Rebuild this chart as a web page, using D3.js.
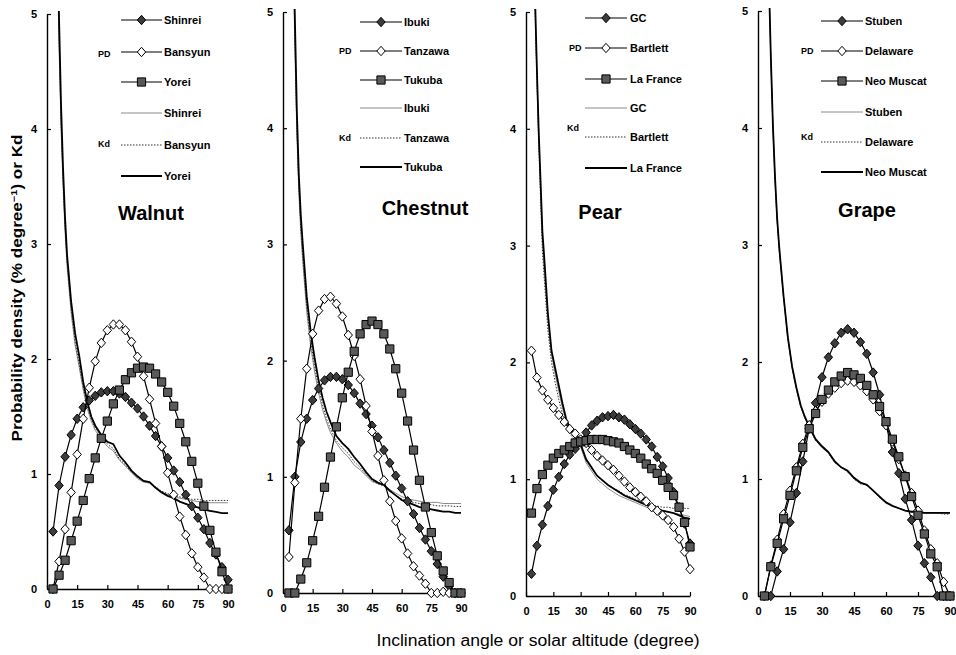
<!DOCTYPE html>
<html>
<head>
<meta charset="utf-8">
<script src="https://cdn.jsdelivr.net/npm/d3@7"></script>
<style>
  body { margin: 0; background: #fff; }
  svg { display: block; font-family: "Liberation Sans", Arial, sans-serif; }
</style>
</head>
<body>
<svg id="chart" width="956" height="655"></svg>
<script>
// PD angle classes (3 degree steps)
var angles = [3,6,9,12,15,18,21,24,27,30,33,36,39,42,45,48,51,54,57,60,63,66,69,72,75,78,81,84,87,90];
// angles at which Kd was read
var kdAngles = [4,5,6,7,8,9,10,12,14,16,18,20,22,24,27,30,33,36,39,42,45,48,51,54,57,60,63,66,69,72,75,78,81,84,87,90];

var xTicks = [0,15,30,45,60,75,90];
var yTicks = [0,1,2,3,4,5];
var cropNames = ['Walnut','Chestnut','Pear','Grape'];
var cultivars = [
  ['Shinrei','Bansyun','Yorei'],
  ['Ibuki','Tanzawa','Tukuba'],
  ['GC','Bartlett','La France'],
  ['Stuben','Delaware','Neo Muscat']
];

// --- Walnut
var walnutPD1 = [0.50,0.90,1.15,1.34,1.48,1.58,1.64,1.68,1.71,1.72,1.72,1.70,1.67,1.62,1.57,1.50,1.42,1.33,1.24,1.14,1.03,0.93,0.82,0.72,0.62,0.52,0.40,0.30,0.19,0.08];
var walnutPD2 = [0,0.24,0.52,0.84,1.17,1.48,1.75,1.98,2.14,2.25,2.30,2.30,2.25,2.15,2.02,1.85,1.65,1.44,1.24,1.01,0.82,0.63,0.47,0.31,0.19,0.10,0,0,0,0];
var walnutPD3 = [0,0.12,0.25,0.42,0.59,0.77,0.96,1.14,1.31,1.46,1.61,1.73,1.82,1.88,1.92,1.93,1.92,1.87,1.80,1.71,1.59,1.44,1.28,1.11,0.92,0.72,0.51,0.32,0.15,0];
var walnutKd1 = [7.0,5.6,4.7,4.0,3.5,3.1,2.8,2.4,2.12,1.93,1.73,1.57,1.46,1.38,1.30,1.24,1.20,1.12,1.07,1.01,0.96,0.93,0.92,0.88,0.84,0.82,0.80,0.79,0.78,0.77,0.76,0.76,0.75,0.75,0.75,0.75];
var walnutKd2 = [7.1,5.7,4.8,4.05,3.55,3.15,2.85,2.45,2.15,1.96,1.76,1.60,1.48,1.40,1.32,1.26,1.22,1.13,1.08,1.02,0.97,0.94,0.93,0.89,0.85,0.83,0.81,0.80,0.79,0.78,0.78,0.77,0.77,0.77,0.77,0.77];
var walnutKd3 = [7.3,5.9,4.95,4.2,3.65,3.22,2.9,2.5,2.22,2.03,1.80,1.63,1.50,1.42,1.34,1.28,1.26,1.16,1.10,1.03,0.98,0.94,0.93,0.88,0.84,0.81,0.79,0.76,0.74,0.72,0.71,0.69,0.68,0.67,0.66,0.66];

// --- Chestnut
var chestnutPD1 = [0.54,1.00,1.30,1.50,1.66,1.76,1.83,1.86,1.86,1.84,1.79,1.72,1.63,1.54,1.44,1.34,1.23,1.12,1.01,0.90,0.79,0.68,0.56,0.46,0.36,0.25,0.14,0.06,0,0];
var chestnutPD2 = [0.31,0.95,1.50,1.93,2.23,2.43,2.53,2.55,2.49,2.38,2.22,2.04,1.84,1.61,1.39,1.18,0.97,0.79,0.62,0.47,0.34,0.23,0.15,0.08,0,0,0.01,0,0,0];
var chestnutPD3 = [0,0,0.12,0.26,0.45,0.66,0.91,1.17,1.43,1.68,1.90,2.08,2.23,2.31,2.34,2.31,2.23,2.10,1.93,1.72,1.48,1.23,0.97,0.74,0.52,0.32,0.19,0.09,0,0];
var chestnutKd1 = [6.9,5.6,4.7,3.95,3.45,3.1,2.85,2.42,2.12,1.90,1.72,1.58,1.47,1.38,1.29,1.22,1.17,1.10,1.06,1.01,0.96,0.94,0.93,0.89,0.86,0.83,0.81,0.80,0.79,0.78,0.78,0.78,0.77,0.77,0.77,0.77];
var chestnutKd2 = [7.0,5.7,4.8,4.0,3.5,3.15,2.9,2.47,2.17,1.95,1.77,1.62,1.50,1.41,1.31,1.25,1.20,1.13,1.08,1.02,0.97,0.94,0.92,0.88,0.84,0.81,0.79,0.78,0.77,0.76,0.76,0.75,0.75,0.75,0.745,0.745];
var chestnutKd3 = [7.2,5.9,4.95,4.15,3.6,3.25,3.0,2.55,2.25,2.02,1.83,1.68,1.56,1.47,1.35,1.29,1.24,1.17,1.11,1.04,0.98,0.95,0.93,0.88,0.84,0.80,0.78,0.76,0.74,0.73,0.72,0.71,0.70,0.70,0.69,0.69];

// --- Pear
var pearPD1 = [0.19,0.43,0.61,0.77,0.91,1.02,1.13,1.21,1.26,1.33,1.40,1.46,1.50,1.53,1.54,1.55,1.53,1.51,1.47,1.43,1.39,1.34,1.28,1.19,1.11,1.01,0.89,0.76,0.62,0.45];
var pearPD2 = [2.10,1.87,1.76,1.68,1.61,1.55,1.49,1.43,1.39,1.34,1.31,1.25,1.20,1.16,1.12,1.08,1.03,0.98,0.93,0.89,0.85,0.81,0.76,0.73,0.69,0.65,0.59,0.49,0.38,0.23];
var pearPD3 = [0.71,0.92,1.04,1.12,1.18,1.22,1.25,1.28,1.31,1.32,1.33,1.34,1.34,1.34,1.33,1.32,1.31,1.28,1.25,1.22,1.18,1.13,1.09,1.05,0.99,0.93,0.86,0.76,0.63,0.42];
var pearKd1 = [6.3,5.05,4.45,3.92,3.48,3.05,2.8,2.38,2.07,1.90,1.75,1.61,1.50,1.42,1.35,1.28,1.14,1.07,1.00,0.96,0.92,0.89,0.86,0.84,0.82,0.80,0.78,0.76,0.75,0.74,0.73,0.72,0.71,0.70,0.69,0.68];
var pearKd2 = [6.2,5.0,4.4,3.85,3.4,2.95,2.72,2.28,2.00,1.83,1.68,1.56,1.46,1.39,1.33,1.28,1.16,1.09,1.03,0.99,0.95,0.92,0.90,0.87,0.85,0.83,0.81,0.80,0.78,0.77,0.76,0.76,0.75,0.75,0.75,0.75];
var pearKd3 = [6.4,5.1,4.5,3.97,3.55,3.12,2.9,2.42,2.10,1.95,1.80,1.65,1.52,1.44,1.36,1.30,1.17,1.10,1.03,0.99,0.95,0.92,0.89,0.86,0.84,0.82,0.80,0.78,0.76,0.75,0.73,0.72,0.71,0.69,0.67,0.66];

// --- Grape
var grapePD1 = [0,0,0.21,0.40,0.63,0.88,1.15,1.43,1.65,1.87,2.04,2.16,2.25,2.28,2.25,2.17,2.07,1.91,1.72,1.47,1.23,1.05,0.83,0.65,0.43,0.28,0.16,0,0,0];
var grapePD2 = [0,0.26,0.48,0.70,0.90,1.10,1.30,1.46,1.58,1.66,1.73,1.78,1.82,1.84,1.83,1.80,1.75,1.68,1.58,1.46,1.32,1.17,1.03,0.88,0.73,0.56,0.40,0.28,0.12,0];
var grapePD3 = [0,0.25,0.45,0.66,0.86,1.07,1.27,1.43,1.56,1.68,1.76,1.83,1.88,1.91,1.89,1.86,1.80,1.72,1.62,1.49,1.34,1.19,1.02,0.85,0.69,0.53,0.36,0.25,0,0];
var grapeKd1 = [6.6,5.3,4.6,4.0,3.55,3.2,2.95,2.55,2.2,1.95,1.77,1.62,1.52,1.44,1.33,1.27,1.22,1.14,1.10,1.07,1.00,0.96,0.95,0.90,0.84,0.80,0.77,0.75,0.73,0.72,0.72,0.71,0.71,0.71,0.71,0.71];
var grapeKd2 = [6.6,5.3,4.6,4.0,3.55,3.2,2.95,2.55,2.2,1.95,1.77,1.62,1.52,1.44,1.33,1.27,1.22,1.14,1.10,1.06,1.00,0.96,0.95,0.90,0.84,0.80,0.77,0.75,0.73,0.72,0.71,0.71,0.71,0.71,0.70,0.70];
var grapeKd3 = [6.7,5.35,4.62,4.02,3.57,3.22,2.97,2.56,2.21,1.96,1.78,1.63,1.53,1.45,1.34,1.28,1.23,1.15,1.10,1.07,1.01,0.97,0.95,0.90,0.85,0.80,0.77,0.75,0.73,0.72,0.72,0.71,0.71,0.71,0.71,0.71];

var pdSeries = [[walnutPD1,walnutPD2,walnutPD3],[chestnutPD1,chestnutPD2,chestnutPD3],[pearPD1,pearPD2,pearPD3],[grapePD1,grapePD2,grapePD3]];
var kdSeries = [[walnutKd1,walnutKd2,walnutKd3],[chestnutKd1,chestnutKd2,chestnutKd3],[pearKd1,pearKd2,pearKd3],[grapeKd1,grapeKd2,grapeKd3]];

// layout of each panel (pixels)
var layout = [
  {x0:47,  x1:228, yb:589, yt:14, legLine:[121,162], legText:164, rows:[20,52,82,113,145,176], pd:[98,57], kd:[98,147], title:[151,220]},
  {x0:283, x1:461, yb:593, yt:12, legLine:[360,402], legText:404, rows:[22,51,80,108,138,167], pd:[339,54], kd:[339,141], title:[425,215]},
  {x0:526, x1:690, yb:596, yt:12, legLine:[585,627], legText:630, rows:[18,48,79,108,137,168], pd:[569,51], kd:[567,131], title:[600,219]},
  {x0:758, x1:950, yb:596, yt:11, legLine:[821,863], legText:865, rows:[21,51,81,112,142,172], pd:[801,54], kd:[801,140], title:[867,217]}
];

var svg = d3.select('#chart');

var pdStyle = [
  {shape:'diamond', fill:'#3c3c3c'},
  {shape:'diamond', fill:'#ffffff'},
  {shape:'square',  fill:'#5a5a5a'}
];
var kdStyle = [
  {stroke:'#8a8a8a', width:1, dash:null},
  {stroke:'#333', width:1, dash:'1.5,1.5'},
  {stroke:'#000', width:1.8, dash:null}
];

function markerPath(shape) {
  if (shape === 'square') {
    var s = 4.1;
    return 'M' + (-s) + ',' + (-s) + 'H' + s + 'V' + s + 'H' + (-s) + 'Z';
  }
  var d = 4.7;
  return 'M0,' + (-d) + 'L' + (d - 0.5) + ',0L0,' + d + 'L' + (-(d - 0.5)) + ',0Z';
}

layout.forEach(function(L, p) {
  var x = d3.scaleLinear().domain([0, 90]).range([L.x0, L.x1]);
  var y = d3.scaleLinear().domain([0, 5]).range([L.yb, L.yt]);
  var g = svg.append('g');

  g.append('clipPath').attr('id', 'clip' + p)
    .append('rect').attr('x', L.x0).attr('y', L.yt - 3)
    .attr('width', L.x1 - L.x0 + 6).attr('height', L.yb - L.yt + 3);

  // axes
  var xAxis = d3.axisBottom(x).tickValues(xTicks).tickFormat(d3.format('d'))
    .tickSizeInner(-4).tickSizeOuter(0).tickPadding(11);
  var yAxis = d3.axisLeft(y).tickValues(yTicks).tickFormat(d3.format('d'))
    .tickSizeInner(-4).tickSizeOuter(0).tickPadding(10);
  var gx = g.append('g').attr('transform', 'translate(0,' + L.yb + ')').call(xAxis);
  var gy = g.append('g').attr('transform', 'translate(' + L.x0 + ',0)').call(yAxis);
  [gx, gy].forEach(function(a) {
    a.select('.domain').attr('stroke', '#000').attr('stroke-width', 1.4);
    a.selectAll('.tick line').attr('stroke', '#000').attr('stroke-width', 1.2);
    a.selectAll('.tick text').attr('font-size', 11).attr('font-weight', 'bold').attr('fill', '#000');
  });

  // Kd lines
  var kdLine = d3.line().x(function(d, i) { return x(kdAngles[i]); }).y(function(d) { return y(d); });
  kdSeries[p].forEach(function(vals, s) {
    g.append('path').datum(vals)
      .attr('clip-path', 'url(#clip' + p + ')')
      .attr('d', kdLine)
      .attr('fill', 'none')
      .attr('stroke', kdStyle[s].stroke)
      .attr('stroke-width', kdStyle[s].width)
      .attr('stroke-dasharray', kdStyle[s].dash);
  });

  // PD lines and markers
  var pdLine = d3.line().x(function(d, i) { return x(angles[i]); }).y(function(d) { return y(d); });
  pdSeries[p].forEach(function(vals, s) {
    g.append('path').datum(vals)
      .attr('d', pdLine)
      .attr('fill', 'none').attr('stroke', '#000').attr('stroke-width', 1.2);
    g.selectAll(null).data(vals).enter().append('path')
      .attr('transform', function(d, i) { return 'translate(' + x(angles[i]) + ',' + y(d) + ')'; })
      .attr('d', markerPath(pdStyle[s].shape))
      .attr('fill', pdStyle[s].fill)
      .attr('stroke', '#000').attr('stroke-width', 1);
  });

  // legend
  var names = cultivars[p];
  for (var r = 0; r < 6; r++) {
    var ly = L.rows[r];
    var line = g.append('line')
      .attr('x1', L.legLine[0]).attr('x2', L.legLine[1])
      .attr('y1', ly).attr('y2', ly);
    if (r < 3) {
      line.attr('stroke', '#000').attr('stroke-width', 1.2);
      g.append('path')
        .attr('transform', 'translate(' + ((L.legLine[0] + L.legLine[1]) / 2) + ',' + ly + ')')
        .attr('d', markerPath(pdStyle[r].shape))
        .attr('fill', pdStyle[r].fill).attr('stroke', '#000').attr('stroke-width', 1);
    } else {
      var ks = kdStyle[r - 3];
      line.attr('stroke', ks.stroke).attr('stroke-width', ks.width).attr('stroke-dasharray', ks.dash);
    }
    g.append('text')
      .attr('x', L.legText).attr('y', ly + 4)
      .attr('font-size', 11).attr('font-weight', 'bold')
      .text(names[r % 3]);
  }
  g.append('text').attr('x', L.pd[0]).attr('y', L.pd[1])
    .attr('font-size', 9).attr('font-weight', 'bold').text('PD');
  g.append('text').attr('x', L.kd[0]).attr('y', L.kd[1])
    .attr('font-size', 9).attr('font-weight', 'bold').text('Kd');

  g.append('text').attr('x', L.title[0]).attr('y', L.title[1])
    .attr('text-anchor', 'middle')
    .attr('font-size', 20).attr('font-weight', 'bold')
    .text(cropNames[p]);
});

// axis titles
var yt = svg.append('text')
  .attr('transform', 'translate(22,288) rotate(-90)')
  .attr('text-anchor', 'middle')
  .attr('font-size', 14).attr('font-weight', 'bold')
  .attr('textLength', 307).attr('lengthAdjust', 'spacingAndGlyphs');
yt.append('tspan').text('Probability density (% degree');
yt.append('tspan').attr('dy', -5).attr('font-size', 9).text('\u22121');
yt.append('tspan').attr('dy', 5).text(') or Kd');

svg.append('text')
  .attr('x', 538).attr('y', 646)
  .attr('text-anchor', 'middle')
  .attr('font-size', 16)
  .attr('textLength', 323).attr('lengthAdjust', 'spacingAndGlyphs')
  .text('Inclination angle or solar altitude (degree)');
</script>
</body>
</html>
